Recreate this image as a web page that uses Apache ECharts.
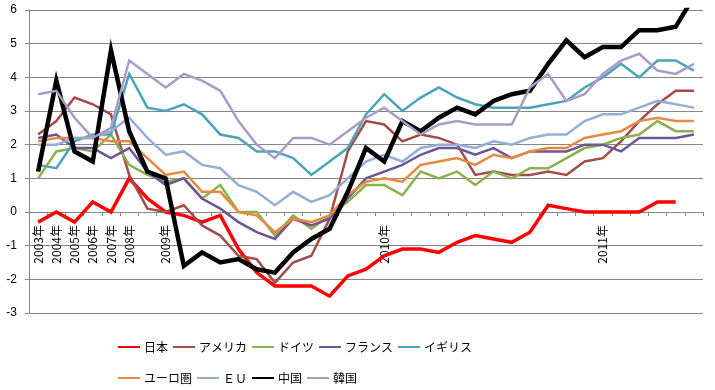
<!DOCTYPE html>
<html>
<head>
<meta charset="utf-8">
<script src="https://cdn.jsdelivr.net/npm/echarts@6/dist/echarts.min.js"></script>
<style>
html,body{margin:0;padding:0;background:#fff;}
#c{width:715px;height:390px;}
</style>
</head>
<body>
<div id="c"></div>
<script>
// Category labels: 2003-2008 (yearly), then monthly 2008-12 .. 2011-06
const categories = ["2003年","2004年","2005年","2006年","2007年","2008年","",
  "2009年","","","","","","","","","","","",
  "2010年","","","","","","","","","","","",
  "2011年","","","","",""];

const japan   = [-0.3,0.0,-0.3,0.3,0.0,1.0,0.4, 0.0,-0.1,-0.3,-0.1,-1.1,-1.8,-2.2,-2.2,-2.2,-2.5,-1.9,-1.7, -1.3,-1.1,-1.1,-1.2,-0.9,-0.7,-0.8,-0.9,-0.6,0.2,0.1,0.0, 0.0,0.0,0.0,0.3,0.3,null];
const usa     = [2.3,2.7,3.4,3.2,2.9,1.1,0.1, 0.0,0.2,-0.4,-0.7,-1.3,-1.4,-2.1,-1.5,-1.3,-0.2,1.8,2.7, 2.6,2.1,2.3,2.2,2.0,1.1,1.2,1.1,1.1,1.2,1.1,1.5, 1.6,2.1,2.7,3.2,3.6,3.6];
const germany = [1.0,1.8,1.9,1.8,2.3,1.4,1.1, 0.9,1.0,0.4,0.8,0.0,0.0,-0.7,-0.1,-0.5,-0.1,0.3,0.8, 0.8,0.5,1.2,1.0,1.2,0.8,1.2,1.0,1.3,1.3,1.6,1.9, 2.0,2.2,2.3,2.7,2.4,2.4];
const france  = [2.2,2.3,1.9,1.9,1.6,1.9,1.2, 0.8,1.0,0.4,0.1,-0.3,-0.6,-0.8,-0.2,-0.4,-0.2,0.4,1.0, 1.2,1.4,1.7,1.9,1.9,1.7,1.9,1.6,1.8,1.8,1.8,2.0, 2.0,1.8,2.2,2.2,2.2,2.3];
const uk      = [1.4,1.3,2.1,2.3,2.3,4.1,3.1, 3.0,3.2,2.9,2.3,2.2,1.8,1.8,1.6,1.1,1.5,1.9,2.9, 3.5,3.0,3.4,3.7,3.4,3.2,3.1,3.1,3.1,3.2,3.3,3.7, 4.0,4.4,4.0,4.5,4.5,4.2];
const euro    = [2.1,2.2,2.2,2.2,2.1,2.1,1.6, 1.1,1.2,0.6,0.6,0.0,-0.1,-0.6,-0.2,-0.3,-0.1,0.5,0.9, 1.0,0.9,1.4,1.5,1.6,1.4,1.7,1.6,1.8,1.9,1.9,2.2, 2.3,2.4,2.7,2.8,2.7,2.7];
const eu      = [2.0,2.0,2.2,2.2,2.4,2.8,2.2, 1.7,1.8,1.4,1.3,0.8,0.6,0.2,0.6,0.3,0.5,1.0,1.5, 1.7,1.5,1.9,2.0,2.0,1.9,2.1,2.0,2.2,2.3,2.3,2.7, 2.9,2.9,3.1,3.3,3.2,3.1];
const china   = [1.2,3.9,1.8,1.5,4.8,2.4,1.2, 1.0,-1.6,-1.2,-1.5,-1.4,-1.7,-1.8,-1.2,-0.8,-0.5,0.6,1.9, 1.5,2.7,2.4,2.8,3.1,2.9,3.3,3.5,3.6,4.4,5.1,4.6, 4.9,4.9,5.4,5.4,5.5,6.4];
const korea   = [3.5,3.6,2.8,2.2,2.5,4.5,4.1, 3.7,4.1,3.9,3.6,2.7,2.0,1.6,2.2,2.2,2.0,2.4,2.8, 3.1,2.7,2.3,2.6,2.7,2.6,2.6,2.6,3.7,4.1,3.3,3.5, 4.1,4.5,4.7,4.2,4.1,4.4];

const yTicks = [-3,-2,-1,0,1,2,3,4,5,6];

const seriesDefs = [
  {name:"日本",   data:japan,   color:"#FF0000", width:3.5},
  {name:"アメリカ", data:usa,   color:"#A24D4A", width:2.5},
  {name:"ドイツ", data:germany, color:"#8DB04E", width:2.5},
  {name:"フランス", data:france, color:"#6F5596", width:2.5},
  {name:"イギリス", data:uk,    color:"#4AA3BA", width:2.5},
  {name:"ユーロ圏", data:euro,  color:"#E8893F", width:2.5},
  {name:"ＥＵ",   data:eu,      color:"#93AED6", width:2.5},
  {name:"中国",   data:china,   color:"#000000", width:4.5},
  {name:"韓国",   data:korea,   color:"#A99CC4", width:2.5}
];

const FONT = '"Noto Sans CJK JP", "Liberation Sans", sans-serif';
const GRID = {left: 29, right: 12, top: 10, bottom: 77};
const plotH = 390 - GRID.top - GRID.bottom;
const yMin = yTicks[0], yMax = yTicks[yTicks.length-1];
// distance from zero line up from the bottom edge of the grid
const zeroOffset = -plotH * (0 - yMin) / (yMax - yMin);

const chart = echarts.init(document.getElementById('c'), null, {renderer:'canvas'});

function legendCfg(names, top){
  return {
    data: names,
    left: 113, top: top,
    orient: 'horizontal',
    icon: 'rect',
    itemWidth: 22, itemHeight: 2,
    itemGap: 5,
    textStyle: {fontFamily: FONT, fontSize: 12, color: '#000', width: 60, padding:[0,0,0,-1]},
    selectedMode: false
  };
}

chart.setOption({
  animation: false,
  backgroundColor: '#fff',
  grid: Object.assign({containLabel: false}, GRID),
  legend: [
    legendCfg(seriesDefs.slice(0,5).map(s=>s.name), 336),
    legendCfg(seriesDefs.slice(5).map(s=>s.name), 367)
  ],
  xAxis: {
    type: 'category',
    data: categories,
    boundaryGap: true,
    position: 'bottom',
    offset: zeroOffset,
    axisLine: {onZero: false, lineStyle: {color: '#868686', width: 1}},
    axisTick: {show: true, interval: 0, length: 4, lineStyle: {color: '#868686'}},
    axisLabel: {interval: 0, rotate: 90, margin: 13, fontFamily: FONT, fontSize: 12, color: '#000'},
    splitLine: {show: false}
  },
  yAxis: {
    type: 'value',
    min: yMin, max: yMax, interval: 1,
    axisLine: {show: true, lineStyle: {color: '#868686'}},
    axisTick: {show: true, length: 4, lineStyle: {color: '#868686'}},
    axisLabel: {margin: 12, fontFamily: '"Liberation Sans", sans-serif', fontSize: 12, color: '#000'},
    splitLine: {show: true, lineStyle: {color: '#868686', width: 1}}
  },
  series: seriesDefs.map(s => ({
    name: s.name,
    type: 'line',
    data: s.data,
    showSymbol: false,
    symbol: 'none',
    clip: true,
    connectNulls: false,
    lineStyle: {color: s.color, width: s.width, join: 'miter'},
    itemStyle: {color: s.color},
    emphasis: {disabled: true}
  }))
});
</script>
</body>
</html>
